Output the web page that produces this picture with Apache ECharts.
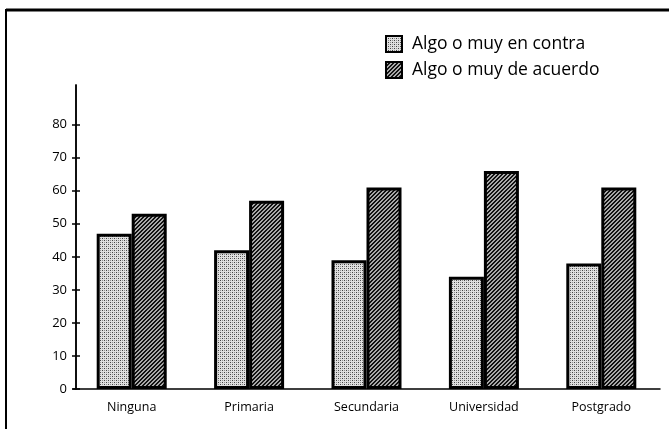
<!DOCTYPE html>
<html>
<head>
<meta charset="utf-8">
<script src="https://cdn.jsdelivr.net/npm/echarts@6/dist/echarts.min.js"></script>
<style>
  html, body { margin: 0; padding: 0; background: #fff; }
  #chart { width: 669px; height: 429px; }
</style>
</head>
<body>
<div id="chart"></div>
<script>
// datos
const categories = ['Ninguna', 'Primaria', 'Secundaria', 'Universidad', 'Postgrado'];
const enContra = [47, 42, 39, 34, 38];
const deAcuerdo = [53, 57, 61, 66, 61];
const yTicks = [0, 10, 20, 30, 40, 50, 60, 70, 80];

// tramas de relleno (puntos claros y rayado oscuro)
const makeDots = () => {
    const c = document.createElement('canvas');
    c.width = 4; c.height = 4;
    const g = c.getContext('2d');
    g.fillStyle = '#e0e0e0';
    g.fillRect(0, 0, 4, 4);
    g.fillStyle = '#444';
    g.fillRect(0, 0, 1, 1);
    g.fillRect(2, 2, 1, 1);
    g.fillStyle = '#909090';
    g.fillRect(2, 0, 1, 1);
    g.fillRect(0, 2, 1, 1);
    return c;
};
const makeHatch = () => {
    const c = document.createElement('canvas');
    c.width = 4; c.height = 4;
    const g = c.getContext('2d');
    g.fillStyle = '#a8a8a8';
    g.fillRect(0, 0, 4, 4);
    g.fillStyle = '#111';
    for (let i = 0; i < 4; i++) {
        g.fillRect((3 - i) % 4, i, 1, 1);
        g.fillRect((4 - i) % 4, i, 1, 1);
    }
    return c;
};

const font = '"Open Sans", Lato, sans-serif';
const chart = echarts.init(document.getElementById('chart'));

const yBase = {
    type: 'value',
    min: 0,
    max: 92,
    interval: 10,
    position: 'left',
    offset: -3,
    splitLine: { show: false },
    axisLine: { show: true, lineStyle: { color: '#000', width: 1.5 } }
};

chart.setOption({
    backgroundColor: '#fff',
    animation: false,
    textStyle: { fontFamily: font },
    graphic: [
        { type: 'line', shape: { x1: 6, y1: 10, x2: 669, y2: 10 }, style: { stroke: '#000', lineWidth: 3 } },
        { type: 'line', shape: { x1: 6, y1: 9, x2: 6, y2: 429 }, style: { stroke: '#000', lineWidth: 2 } }
    ],
    legend: {
        orient: 'vertical',
        left: 385,
        top: 35,
        padding: 0,
        icon: 'rect',
        itemWidth: 16,
        itemHeight: 16,
        itemGap: 8,
        textStyle: { fontSize: 17.5, lineHeight: 16, color: '#000', fontFamily: font, padding: [0, 0, 0, 5] },
        data: ['Algo o muy en contra', 'Algo o muy de acuerdo']
    },
    grid: { left: 73, right: 9, top: 85, bottom: 40 },
    xAxis: {
        type: 'category',
        data: categories,
        axisLine: { lineStyle: { color: '#000', width: 1.5 } },
        axisTick: { show: false },
        axisLabel: { color: '#000', fontSize: 12.5, margin: 12, fontFamily: font }
    },
    yAxis: [
        Object.assign({}, yBase, {
            axisTick: { show: true, length: 4, customValues: yTicks, lineStyle: { color: '#000', width: 1.5 } },
            axisLabel: { color: '#000', fontSize: 13, margin: 9, customValues: yTicks, fontFamily: font }
        }),
        Object.assign({}, yBase, {
            axisTick: { show: true, inside: true, length: 4, customValues: yTicks, lineStyle: { color: '#000', width: 1.5 } },
            axisLabel: { show: false }
        })
    ],
    series: [
        {
            name: 'Algo o muy en contra',
            type: 'bar',
            barWidth: 35,
            barGap: '0%',
            data: enContra,
            itemStyle: {
                color: { image: makeDots(), repeat: 'repeat' },
                borderColor: '#000',
                borderWidth: 3
            }
        },
        {
            name: 'Algo o muy de acuerdo',
            type: 'bar',
            barWidth: 35,
            barGap: '0%',
            data: deAcuerdo,
            itemStyle: {
                color: { image: makeHatch(), repeat: 'repeat' },
                borderColor: '#000',
                borderWidth: 3
            }
        }
    ]
});
</script>
</body>
</html>
